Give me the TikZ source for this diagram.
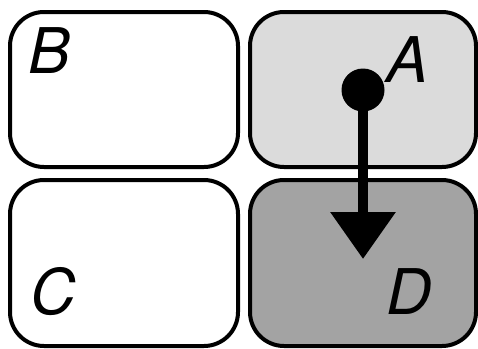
\documentclass[tikz,border=0pt]{standalone}
\usepackage{fontspec}
\setmainfont{TeX Gyre Heros}
\usetikzlibrary{arrows.meta}
\tikzset{
  panel/.style={draw=black, line width=4pt, rounded corners=34pt, inner sep=0pt, anchor=north west},
  letter/.style={anchor=base west, inner sep=0pt, font=\fontsize{63}{63}\selectfont\itshape},
  dotnode/.style={circle, fill=black, minimum size=43pt, inner sep=0pt},
  flow/.style={line width=10pt, -{Triangle[length=47pt, width=63pt]}}
}
\begin{document}
\begin{tikzpicture}[x=1pt, y=-1pt]
\useasboundingbox (0,0) rectangle (478,348);
\fill[white] (0,0) rectangle (478,348);
\node[panel, fill=white, minimum width=228pt, minimum height=155pt] (B) at (8,10) {};
\node[panel, fill=black!14, minimum width=226pt, minimum height=155pt] (A) at (248,10) {};
\node[panel, fill=white, minimum width=228pt, minimum height=166pt] (C) at (8,178) {};
\node[panel, fill=black!36, minimum width=226pt, minimum height=166pt] (D) at (248,178) {};
\node[letter] (lB) at (28,73) {B};
\node[letter] (lA) at (386,82) {A};
\node[letter] (lC) at (30,314) {C};
\node[letter] (lD) at (386,314) {D};
\node[dotnode] (dot) at (363,90) {};
\coordinate (tip) at (363,259);
\draw[flow] (dot.center) -- (tip);
\end{tikzpicture}
\end{document}
